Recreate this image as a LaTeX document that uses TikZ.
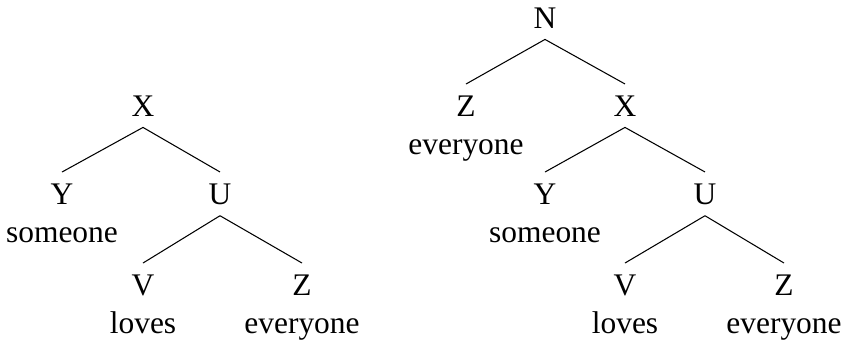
\documentclass[tikz,border=0pt]{standalone}
\usepackage{fontspec}
\setmainfont{Liberation Serif}
\usepackage{tikz}
\tikzset{
  cat/.style={anchor=base,inner xsep=2pt,inner ysep=6.3pt,font=\fontsize{17.9pt}{21.6pt}\selectfont},
  leaf/.style={cat,align=center},
  edge/.style={draw=black,line width=.6pt}
}
\newcommand{\branch}[3]{%
  \draw[edge] (#1.south) -- (#2.north);
  \draw[edge] (#1.south) -- (#3.north);
}

\begin{document}
\begin{tikzpicture}[x=2mm,y=-2mm]
  \useasboundingbox (0,0) rectangle (84.3,34.5);
  % left tree (leaves placed at the baseline of the word)
  \node[cat] (lx) at (14.3,11.6) {X};
  \node[leaf] (ly) at (6.2,24.2) {Y\\someone};
  \node[cat] (lu) at (22.0,20.4) {U};
  \node[leaf] (lv) at (14.3,33.3) {V\\loves};
  \node[leaf] (lz) at (30.2,33.3) {Z\\everyone};
  \branch{lx}{ly}{lu}
  \branch{lu}{lv}{lz}
  % right tree
  \node[cat] (rn) at (54.5,2.8) {N};
  \node[leaf] (rz) at (46.6,15.4) {Z\\everyone};
  \node[cat] (rx) at (62.5,11.6) {X};
  \node[leaf] (ry) at (54.5,24.2) {Y\\someone};
  \node[cat] (ru) at (70.5,20.4) {U};
  \node[leaf] (rv) at (62.5,33.3) {V\\loves};
  \node[leaf] (rzz) at (78.4,33.3) {Z\\everyone};
  \branch{rn}{rz}{rx}
  \branch{rx}{ry}{ru}
  \branch{ru}{rv}{rzz}
\end{tikzpicture}
\end{document}
